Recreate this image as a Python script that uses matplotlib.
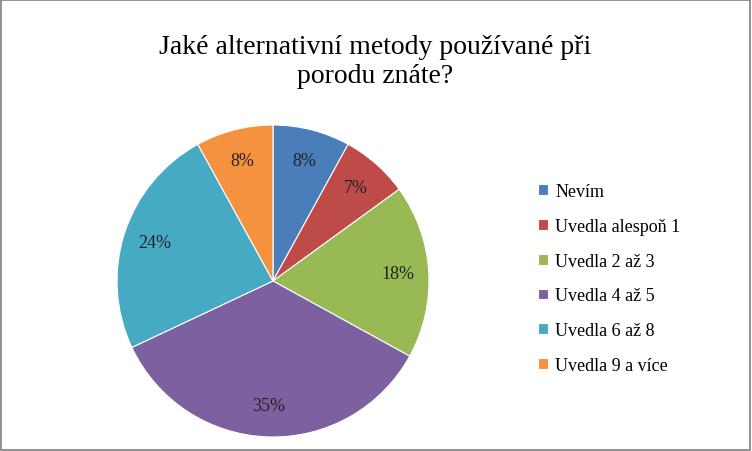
import matplotlib.pyplot as plt
from matplotlib.patches import Rectangle

title = "Jaké alternativní metody používané při\nporodu znáte?"
labels = ["Nevím", "Uvedla alespoň 1", "Uvedla 2 až 3", "Uvedla 4 až 5", "Uvedla 6 až 8", "Uvedla 9 a více"]
values = [8, 7, 18, 35, 24, 8]
colors = ["#4A7EBB", "#BE4B48", "#98B954", "#7D60A0", "#46AAC5", "#F59240"]

plt.rcParams["font.family"] = ["Liberation Serif", "DejaVu Serif"]

fig = plt.figure(figsize=(7.52, 4.52), dpi=100)
fig.patches.append(Rectangle((0.001, 0.002), 0.997, 0.995, transform=fig.transFigure,
                             fill=False, edgecolor="#7f7f7f", linewidth=1.2))

ax = fig.add_axes([(273 - 156) / 752, (452 - 282 - 156) / 452, 312 / 752, 312 / 452])
wedges, texts, autotexts = ax.pie(values, colors=colors, startangle=90, counterclock=False,
                                  autopct="%d%%", pctdistance=0.8,
                                  wedgeprops={"edgecolor": "white", "linewidth": 0.8},
                                  textprops={"fontsize": 13, "color": "#222222"})
ax.set_xlim(-1, 1)
ax.set_ylim(-1, 1)
ax.set_aspect("auto")

fig.text(375 / 752, 1 - 62 / 452, title, ha="center", va="center", fontsize=20, linespacing=1.2)

fig.legend(wedges, labels, loc="upper left", bbox_to_anchor=(522 / 752, 1 - 168 / 452),
           frameon=False, fontsize=13, handlelength=0.55, handleheight=0.55,
           handletextpad=0.4, labelspacing=0.98)

fig.savefig("out.png", dpi=100)
